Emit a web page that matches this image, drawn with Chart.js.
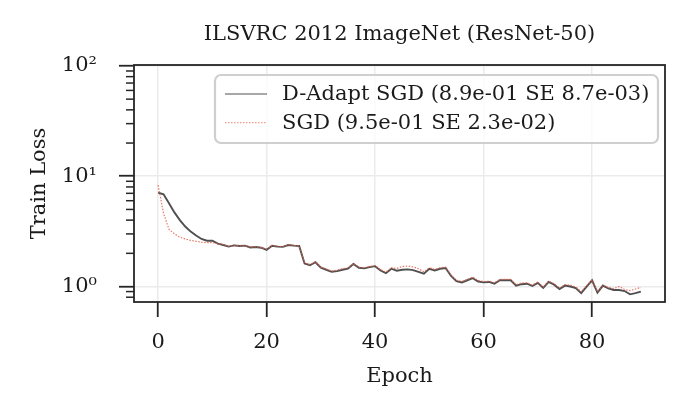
<!DOCTYPE html>
<html><head><meta charset="utf-8">
<script src="https://cdn.jsdelivr.net/npm/chart.js@4"></script>
<style>html,body{margin:0;padding:0;background:#fff}</style>
</head><body>
<canvas id="c" width="690" height="420" style="display:block;width:690px;height:420px"></canvas>
<script>
const titleText = 'ILSVRC 2012 ImageNet (ResNet-50)';
const xLabel = 'Epoch';
const yLabel = 'Train Loss';
const seriesNames = ['D-Adapt SGD (8.9e-01 SE 8.7e-03)', 'SGD (9.5e-01 SE 2.3e-02)'];
const epochs = [0,1,2,3,4,5,6,7,8,9,10,11,12,13,14,15,16,17,18,19,20,21,22,23,24,25,26,27,28,29,30,31,32,33,34,35,36,37,38,39,40,41,42,43,44,45,46,47,48,49,50,51,52,53,54,55,56,57,58,59,60,61,62,63,64,65,66,67,68,69,70,71,72,73,74,75,76,77,78,79,80,81,82,83,84,85,86,87,88,89];
const dadaptLoss = [7.1,6.85,5.7,4.7,4.0,3.5,3.15,2.9,2.7,2.6,2.6,2.45,2.38,2.3,2.36,2.33,2.35,2.26,2.28,2.25,2.15,2.34,2.3,2.29,2.38,2.35,2.33,1.62,1.56,1.66,1.48,1.42,1.36,1.38,1.42,1.45,1.6,1.48,1.46,1.5,1.53,1.4,1.32,1.45,1.39,1.42,1.43,1.41,1.36,1.31,1.45,1.4,1.45,1.47,1.25,1.12,1.09,1.14,1.19,1.11,1.09,1.1,1.06,1.14,1.14,1.14,1.02,1.05,1.06,1.01,1.08,0.97,1.1,1.04,0.95,1.02,1.0,0.97,0.87,1.0,1.14,0.88,1.02,0.96,0.93,0.93,0.91,0.85,0.87,0.9];
const sgdLoss = [8.3,4.6,3.3,3.0,2.8,2.7,2.62,2.57,2.52,2.5,2.5,2.45,2.4,2.32,2.37,2.33,2.36,2.27,2.29,2.26,2.18,2.36,2.32,2.3,2.39,2.36,2.34,1.64,1.58,1.68,1.5,1.44,1.38,1.41,1.45,1.48,1.62,1.5,1.48,1.52,1.55,1.42,1.35,1.48,1.46,1.52,1.53,1.51,1.45,1.36,1.48,1.43,1.48,1.5,1.27,1.14,1.11,1.16,1.22,1.13,1.11,1.12,1.08,1.16,1.16,1.16,1.04,1.08,1.08,1.03,1.1,0.99,1.12,1.06,0.97,1.04,1.03,0.99,0.9,1.02,1.15,0.9,1.03,0.98,0.96,1.0,0.94,0.92,0.95,0.98];
const xTicks = [0,20,40,60,80];
const yTicks = [1,10,100];
const yTickLabels = ['10\u2070','10\u00B9','10\u00B2'];
const yMinorTicks = [0.8,0.9,2,3,4,5,6,7,8,9,20,30,40,50,60,70,80,90];

const FONT = 'DejaVu Serif';
const FS = 21;
const INK = '#262626';

const framePlugin = {
  id: 'frame',
  afterDraw(chart) {
    const {ctx, chartArea: a, scales: {y}} = chart;
    ctx.save();
    ctx.strokeStyle = INK;
    ctx.lineWidth = 1.5;
    for (const v of yMinorTicks) {
      const py = y.getPixelForValue(v);
      if (py < a.top - 0.5 || py > a.bottom + 0.5) continue;
      ctx.beginPath(); ctx.moveTo(a.left - 8, py); ctx.lineTo(a.left, py); ctx.stroke();
    }
    ctx.lineWidth = 1.8;
    ctx.strokeRect(a.left, a.top, a.right - a.left, a.bottom - a.top);
    // legend
    const lx = 215, ly = 75, lw = 443, lh = 68, r = 6;
    ctx.beginPath();
    ctx.roundRect(lx, ly, lw, lh, r);
    ctx.fillStyle = 'rgba(255,255,255,0.8)';
    ctx.fill();
    ctx.lineWidth = 2.2;
    ctx.strokeStyle = '#cfcfcf';
    ctx.stroke();
    const ds = chart.data.datasets;
    const rows = [94, 122.7];
    ctx.font = FS + 'px "' + FONT + '"';
    ctx.textBaseline = 'middle';
    ctx.textAlign = 'left';
    ds.forEach((d, i) => {
      ctx.beginPath();
      ctx.strokeStyle = d.legendColor;
      ctx.lineWidth = d.legendWidth;
      ctx.setLineDash(d.borderDash || []);
      ctx.moveTo(225, rows[i]); ctx.lineTo(267, rows[i]); ctx.stroke();
      ctx.setLineDash([]);
      ctx.fillStyle = '#1a1a1a';
      ctx.fillText(d.label, 282, rows[i] + 0.5);
    });
    ctx.restore();
  }
};

new Chart(document.getElementById('c'), {
  type: 'line',
  data: {
    datasets: [
      { label: seriesNames[0], data: epochs.map((e, i) => ({x: e, y: dadaptLoss[i]})),
        borderColor: 'rgba(55,55,55,0.88)', legendColor: '#8a8a8a', borderWidth: 1.9, legendWidth: 1.6,
        pointRadius: 0, tension: 0, order: 2 },
      { label: seriesNames[1], data: epochs.map((e, i) => ({x: e, y: sgdLoss[i]})),
        borderColor: 'rgba(228,98,78,0.85)', legendColor: '#ef9a8a', borderWidth: 1.2, legendWidth: 1.2, borderDash: [1.5, 1.5],
        pointRadius: 0, tension: 0, order: 1 }
    ]
  },
  options: {
    responsive: false,
    animation: false,
    devicePixelRatio: 1,
    layout: { padding: { left: 0, right: 25, top: 0, bottom: 0 } },
    plugins: {
      legend: { display: false },
      tooltip: { enabled: false },
      title: { display: true, text: titleText, fullSize: false, color: '#1a1a1a',
        font: { family: FONT, size: FS, weight: 'normal', lineHeight: 1.2 },
        padding: { top: 22, bottom: 17.8 } }
    },
    scales: {
      x: {
        type: 'linear', min: -4.45, max: 93.45,
        afterBuildTicks: s => { s.ticks = xTicks.map(v => ({value: v})); },
        afterFit: s => { s.height = 118; },
        grid: { color: '#ebebeb', lineWidth: 1.5, drawTicks: true, tickLength: 15, tickColor: INK, tickWidth: 1.8 },
        border: { display: false },
        ticks: { color: '#1a1a1a', font: { family: FONT, size: FS }, padding: 13, maxRotation: 0 },
        title: { display: true, text: xLabel, color: '#1a1a1a', font: { family: FONT, size: FS, lineHeight: 1.2 }, padding: { top: 0, bottom: 30.4 } }
      },
      y: {
        type: 'logarithmic', min: 0.724, max: 102, bounds: 'data',
        afterBuildTicks: s => { s.ticks = yTicks.map(v => ({value: v, major: true})); },
        afterFit: s => { s.width = 134; },
        grid: { color: '#ebebeb', lineWidth: 1.5, drawTicks: true, tickLength: 15, tickColor: INK, tickWidth: 1.8 },
        border: { display: false },
        ticks: { color: '#1a1a1a', font: { family: FONT, size: FS }, padding: 22,
          callback: (v) => { const k = yTicks.indexOf(v); return k >= 0 ? yTickLabels[k] : ''; } },
        title: { display: true, text: yLabel, color: '#1a1a1a', font: { family: FONT, size: FS, lineHeight: 1.2 }, padding: { top: 27.4, bottom: 0 } }
      }
    }
  },
  plugins: [framePlugin]
});
</script>
</body></html>
